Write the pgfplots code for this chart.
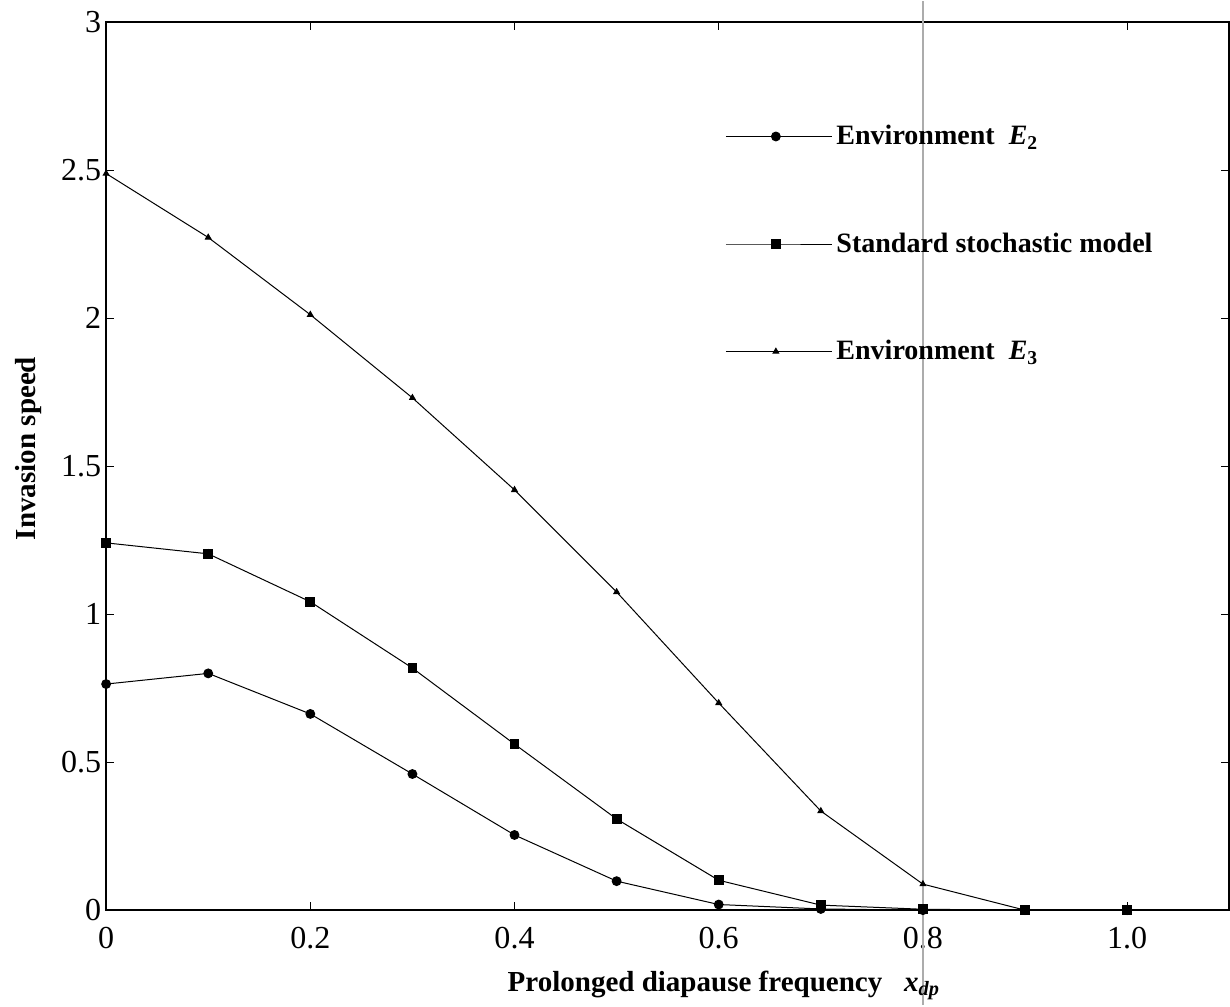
\documentclass[border=0pt]{standalone}
\usepackage{pgfplots}
\pgfplotsset{compat=1.18}
\usepackage{fontspec}
\setmainfont{Liberation Serif}
\begin{document}
\begin{tikzpicture}
\begin{axis}[
  scale only axis,
  width=561pt, height=443.5pt,
  xmin=0, xmax=1.1, ymin=0, ymax=3,
  clip=false,
  axis line style={line width=0.8pt},
  tick align=inside,
  major tick length=4pt,
  tick style={line width=0.6pt, black},
  xtick={0,0.2,0.4,0.6,0.8,1.0},
  xticklabels={0,0.2,0.4,0.6,0.8,1.0},
  ytick={0,0.5,1,1.5,2,2.5,3},
  yticklabels={0,0.5,1,1.5,2,2.5,3},
  /pgf/number format/assume math mode=true,
  tick label style={font=\fontsize{16}{18}\selectfont},
  xticklabel style={yshift=-5pt},
  yticklabel style={xshift=1pt},
  xlabel={\textbf{Prolonged diapause frequency}\ \ \ \textbf{\textit{x}}\textsubscript{\textbf{\textit{dp}}}},
  xlabel style={at={(axis description cs:0.55,-0.0846)}, anchor=center, font=\fontsize{14.5}{17}\selectfont},
  ylabel={\textbf{Invasion speed}},
  ylabel style={at={(axis description cs:-0.0695,0.52)}, anchor=center, font=\fontsize{14.5}{17}\selectfont},
  legend style={at={(axis description cs:0.551,0.889)}, anchor=north west, draw=none, fill=none,
     font=\fontsize{14}{16}\selectfont, row sep=38.5pt, inner sep=0pt,
     nodes={inner sep=2pt}},
  legend cell align=left,
  legend image code/.code={\draw[#1, mark repeat=2, mark phase=2] plot coordinates {(0pt,0pt) (25pt,0pt) (50pt,0pt)};\path (50pt,0pt) -- (53pt,0pt);},
]
\addplot[black, line width=0.5pt, mark=*, mark size=2.2pt] coordinates {
 (0,0.764) (0.1,0.80) (0.2,0.663) (0.3,0.46) (0.4,0.254) (0.5,0.098) (0.6,0.019) (0.7,0.004) (0.8,0.0) (0.9,0.0) (1.0,0.0)};
\addlegendentry{\textbf{Environment}\ \ \textbf{\textit{E}}\textsubscript{\textbf{2}}}
\addplot[black, line width=0.5pt, mark=square*, mark size=2.2pt] coordinates {
 (0,1.241) (0.1,1.204) (0.2,1.042) (0.3,0.818) (0.4,0.561) (0.5,0.308) (0.6,0.101) (0.7,0.017) (0.8,0.003) (0.9,0.0) (1.0,0.0)};
\addlegendentry{\textbf{Standard stochastic model}}
\addplot[black, line width=0.5pt, mark=triangle*, mark size=1.6pt] coordinates {
 (0,2.489) (0.1,2.273) (0.2,2.012) (0.3,1.731) (0.4,1.42) (0.5,1.075) (0.6,0.70) (0.7,0.335) (0.8,0.088) (0.9,0.0) (1.0,0.0)};
\addlegendentry{\textbf{Environment}\ \ \textbf{\textit{E}}\textsubscript{\textbf{3}}}
\addplot[only marks, black, mark=*, mark size=2.2pt, forget plot] coordinates {(0,1.241) (0.1,1.204)};
\draw[gray!65, line width=1.3pt] (axis cs:0.8,-0.321) -- (axis cs:0.8,3.071);
\path (axis description cs:-0.0945,0.5);
\end{axis}
\end{tikzpicture}
\end{document}
